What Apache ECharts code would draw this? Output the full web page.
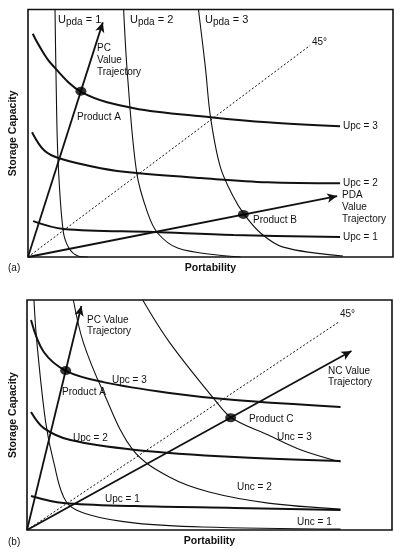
<!DOCTYPE html>
<html><head><meta charset="utf-8">
<script src="https://cdn.jsdelivr.net/npm/echarts@6/dist/echarts.min.js"></script>
<style>html,body{margin:0;padding:0;background:#fff}#c{width:394px;height:549px}</style>
</head><body><div id="c"></div>
<script>
// ---- Panel (a): utility curves (x = portability, y = storage capacity; 0-100 scale)
const aUpc3 = [[1.3,90.2],[3.0,85.5],[6.3,78.2],[14.8,66.5],[29.0,60.1],[50.0,56.5],[65.6,54.4],[85.5,52.8]];
const aUpc2 = [[1.1,50.4],[4.4,43.1],[8.5,39.9],[19.9,35.9],[29.8,33.9],[47.3,31.9],[65.6,30.2],[85.5,29.8]];
const aUpc1 = [[1.4,14.5],[9.8,11.3],[34.4,10.1],[56.3,8.9],[85.5,8.1]];
const aUpda1 = [[7.4,100],[7.7,71.4],[8.2,40.3],[9.6,10.9],[11.2,3.6],[13.7,0.4],[16.4,0]];
const aUpda2 = [[26.2,100],[27.3,72.6],[29.8,33.9],[32.8,17.7],[35.5,9.7],[41.0,3.6],[51.9,0.8],[58.2,0]];
const aUpda3 = [[46.7,100],[48.6,76.6],[50.0,56.5],[52.7,36.3],[56.3,24.2],[59.0,17.7],[63.7,9.7],[69.9,4.0],[86.3,0.4]];
const a45 = [[0,0],[77.3,85.5]];
const aPcTraj = [[0,0],[20.5,94.8]];
const aPdaTraj = [[0,0],[84.7,24.6]];
const aProducts = [[14.5,67.0],[59.0,17.2]];

// ---- Panel (b)
const bUpc3 = [[1.1,91.3],[4.6,77.4],[10.8,69.1],[20.9,64.3],[39.0,59.6],[56.9,56.5],[85.9,53.5]];
const bUpc2 = [[1.1,51.3],[4.6,44.3],[11.9,39.1],[29.8,34.8],[56.9,31.7],[85.9,30.0]];
const bUpc1 = [[1.1,14.8],[10.0,11.7],[29.8,10.4],[56.9,9.6],[85.9,8.7]];
const bUnc1 = [[1.9,100],[2.7,81.7],[5.1,47.0],[7.3,29.6],[10.8,12.2],[17.3,6.5],[29.8,3.0],[48.0,1.3],[85.9,0.4]];
const bUnc2 = [[12.7,100],[15.4,81.7],[20.9,60.0],[29.0,34.8],[39.0,23.0],[49.9,16.5],[66.1,11.7],[85.9,9.1]];
const bUnc3 = [[31.7,100],[39.0,81.7],[51.5,56.5],[56.1,48.7],[66.1,41.3],[75.1,34.8],[85.9,29.6]];
const b45 = [[0,0],[85.4,90.4]];
const bPcTraj = [[0,0],[14.9,97.4]];
const bNcTraj = [[0,0],[88.9,77.8]];
const bProducts = [[10.6,69.3],[55.8,48.8]];

const FONT = 'Liberation Sans, Arial, sans-serif';
const INK = '#111';

function curve(data, idx, w) {
  return {type:'line', data, xAxisIndex:idx, yAxisIndex:idx, smooth:0.35, symbol:'none',
    lineStyle:{color:INK, width:w}, silent:true, z:3};
}
function dotted(data, idx) {
  return {type:'line', data, xAxisIndex:idx, yAxisIndex:idx, symbol:'none',
    lineStyle:{color:INK, width:1, type:[2,2]}, silent:true, z:2};
}
function arrow(data, idx) {
  return {type:'line', data:[], xAxisIndex:idx, yAxisIndex:idx, silent:true,
    markLine:{silent:true, symbol:['none','arrow'], symbolSize:[7,10], label:{show:false},
      lineStyle:{color:INK, width:1.8, type:'solid'},
      data:[[{coord:data[0]},{coord:data[1]}]]}};
}
function dots(data, idx) {
  return {type:'scatter', data, xAxisIndex:idx, yAxisIndex:idx, symbol:'circle', symbolSize:[11,9],
    itemStyle:{color:'#000'}, silent:true, z:5};
}
function txt(x, y, s, opts) {
  return Object.assign({type:'text', x, y, style:{text:s, font:'10px ' + FONT, fill:INK, textVerticalAlign:'middle'}}, opts || {});
}
function sub(x, y, n) {
  return {type:'text', x, y, style:{rich:{u:{fontSize:11, fontFamily:FONT, fill:INK},
      s:{fontSize:10, fontFamily:FONT, fill:INK, padding:[4,0,0,0]},
      e:{fontSize:11, fontFamily:FONT, fill:INK}},
      text:'{u|U}{s|pda}{e| = ' + n + '}', textVerticalAlign:'middle', fill:INK}};
}

const axisCommon = {min:0, max:100, show:true, axisLine:{show:false}, axisTick:{show:false},
  axisLabel:{show:false}, splitLine:{show:false}, nameTextStyle:{fontFamily:FONT, fontWeight:'bold', fontSize:10.5, color:INK}};

const option = {
  backgroundColor:'#fff',
  animation:false,
  grid:[
    {left:27, top:9.5, width:366, height:247.5, show:true, borderColor:INK, borderWidth:1.6},
    {left:23, top:300, width:369, height:230, show:true, borderColor:INK, borderWidth:1.6}
  ],
  xAxis:[
    Object.assign({type:'value', gridIndex:0, name:'Portability', nameLocation:'middle', nameGap:6}, axisCommon),
    Object.assign({type:'value', gridIndex:1, name:'Portability', nameLocation:'middle', nameGap:6}, axisCommon)
  ],
  yAxis:[
    Object.assign({type:'value', gridIndex:0, name:'Storage Capacity', nameLocation:'middle', nameGap:9}, axisCommon),
    Object.assign({type:'value', gridIndex:1, name:'Storage Capacity', nameLocation:'middle', nameGap:8}, axisCommon)
  ],
  series:[
    curve(aUpc3,0,2), curve(aUpc2,0,2), curve(aUpc1,0,2),
    curve(aUpda1,0,1.1), curve(aUpda2,0,1.1), curve(aUpda3,0,1.1),
    dotted(a45,0), arrow(aPcTraj,0), arrow(aPdaTraj,0), dots(aProducts,0),
    curve(bUpc3,1,2), curve(bUpc2,1,2), curve(bUpc1,1,2),
    curve(bUnc1,1,1.1), curve(bUnc2,1,1.1), curve(bUnc3,1,1.1),
    dotted(b45,1), arrow(bPcTraj,1), arrow(bNcTraj,1), dots(bProducts,1)
  ],
  graphic:[
    sub(58,20,1), sub(130,20,2), sub(205,20,3),
    txt(312,42,'45°'),
    txt(97,48,'PC'), txt(97,60,'Value'), txt(97,72,'Trajectory'),
    txt(77,117,'Product A'),
    txt(343,126,'Upc = 3'), txt(343,183,'Upc = 2'), txt(343,237,'Upc = 1'),
    txt(342,195,'PDA'), txt(342,207,'Value'), txt(342,219,'Trajectory'),
    txt(253,220,'Product B'),
    txt(8,268,'(a)'),
    txt(87,320,'PC Value'), txt(87,331,'Trajectory'),
    txt(340,314,'45°'),
    txt(328,371,'NC Value'), txt(328,382,'Trajectory'),
    txt(112,380,'Upc = 3'), txt(62,392,'Product A'),
    txt(249,419,'Product C'), txt(277,437,'Unc = 3'),
    txt(73,438,'Upc = 2'), txt(237,487,'Unc = 2'),
    txt(105,499,'Upc = 1'), txt(297,522,'Unc = 1'),
    txt(8,542,'(b)')
  ]
};
echarts.init(document.getElementById('c')).setOption(option);
</script></body></html>
